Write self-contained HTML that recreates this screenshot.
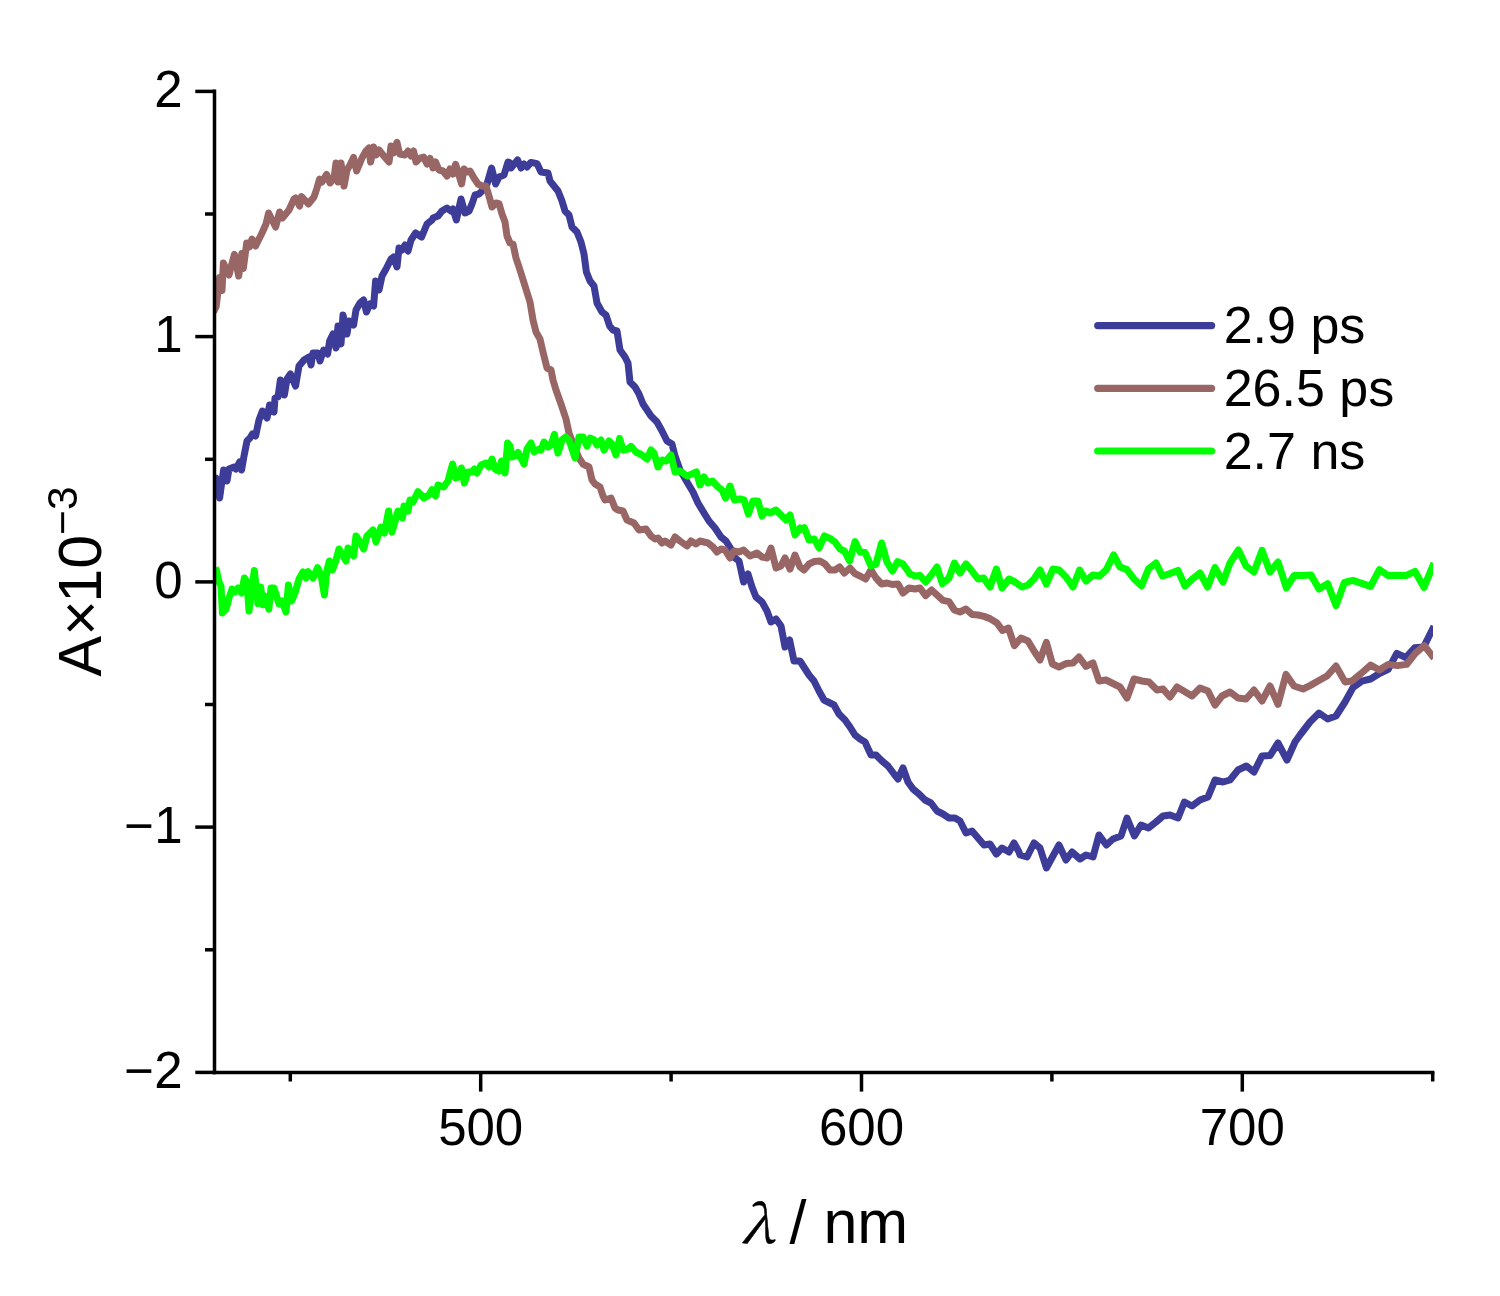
<!DOCTYPE html>
<html lang="en"><head><meta charset="utf-8"><title>Transient absorption spectra</title>
<style>html,body{margin:0;padding:0;background:#fff}svg{display:block}</style></head>
<body>
<svg width="1500" height="1296" viewBox="0 0 1500 1296">
<rect width="1500" height="1296" fill="#fff"/>
<defs><clipPath id="c"><rect x="214" y="80" width="1219" height="992.4"/></clipPath></defs>
<path d="M215.2,480.0 L216.0,478.0 L219.6,498.0 L221.0,488.0 L223.6,470.0 L227.0,481.0 L229.0,469.0 L234.0,467.0 L236.0,469.0 L239.6,462.0 L241.6,470.0 L244.0,456.0 L247.0,441.0 L250.0,438.0 L252.4,434.0 L255.6,436.0 L259.0,420.0 L262.4,411.0 L267.0,418.0 L269.6,405.0 L274.0,412.0 L275.0,398.0 L278.0,397.0 L280.4,380.0 L284.4,395.0 L287.0,379.0 L290.4,374.0 L295.6,386.0 L299.0,366.0 L304.0,360.0 L309.0,357.0 L311.0,365.0 L313.0,353.0 L318.0,353.0 L320.0,361.0 L323.6,350.0 L327.6,354.0 L329.6,341.0 L333.0,334.0 L336.0,348.0 L338.0,326.0 L341.0,344.0 L343.0,315.0 L347.0,334.0 L349.0,321.0 L353.6,325.0 L356.0,310.0 L360.0,303.0 L363.6,300.0 L366.4,312.0 L370.0,304.0 L373.6,306.0 L375.6,281.0 L379.0,290.0 L382.0,276.0 L386.0,269.0 L391.0,259.0 L393.6,257.0 L397.0,267.0 L399.0,248.0 L402.0,250.0 L405.0,245.0 L408.0,251.0 L411.0,240.0 L415.6,233.0 L421.6,237.0 L427.0,224.0 L432.0,220.0 L433.0,218.0 L438.0,216.0 L442.0,211.0 L447.0,208.0 L451.0,211.0 L453.0,209.0 L456.4,220.0 L461.0,199.0 L465.0,213.0 L469.0,211.0 L472.0,204.0 L475.0,195.0 L479.0,194.0 L483.0,190.0 L487.0,184.0 L491.6,168.0 L495.6,184.0 L499.0,177.0 L504.0,175.0 L508.0,162.0 L510.0,163.0 L511.0,168.0 L517.6,160.0 L521.0,168.0 L524.0,164.0 L527.0,167.0 L531.0,162.4 L537.0,163.6 L541.0,172.0 L548.0,173.0 L550.0,181.0 L558.0,191.0 L562.0,201.0 L565.0,211.0 L569.0,215.0 L572.0,227.0 L577.0,232.0 L581.0,242.0 L584.0,254.0 L586.4,272.0 L590.0,281.0 L594.0,286.0 L597.0,303.0 L602.0,312.0 L606.0,315.0 L609.6,326.0 L613.0,330.0 L617.0,331.0 L620.0,350.0 L625.0,357.0 L628.0,363.0 L630.0,382.0 L635.0,387.0 L639.0,394.0 L643.0,404.0 L651.0,416.0 L657.0,422.0 L662.0,431.0 L667.0,441.0 L672.0,444.0 L675.0,456.0 L680.0,470.0 L687.0,482.0 L693.0,492.0 L698.0,503.0 L704.0,513.0 L709.0,521.0 L715.0,528.0 L721.0,537.0 L726.0,541.0 L731.0,549.0 L735.0,558.0 L739.0,561.0 L741.0,570.0 L743.6,582.0 L748.0,574.0 L752.0,587.0 L756.0,597.0 L762.0,602.0 L767.0,611.0 L771.0,622.0 L776.0,619.0 L781.0,626.0 L785.0,647.0 L789.6,640.0 L794.0,661.0 L800.0,661.0 L809.0,675.0 L814.0,681.0 L819.0,691.0 L824.0,700.0 L834.0,705.0 L839.0,714.0 L845.0,720.0 L850.0,727.0 L855.0,735.0 L860.0,739.0 L865.0,742.0 L871.0,755.0 L876.0,755.0 L882.0,761.0 L888.0,766.0 L894.0,774.0 L898.0,779.0 L903.0,768.0 L908.0,782.0 L913.0,789.0 L919.0,794.0 L925.0,800.0 L931.0,803.0 L937.0,811.0 L943.0,814.0 L949.0,818.0 L955.0,818.0 L960.0,821.0 L966.0,833.0 L972.0,831.0 L978.0,838.0 L984.0,845.0 L990.0,844.0 L996.4,854.0 L1002.0,848.0 L1009.0,852.0 L1014.0,843.0 L1019.0,852.0 L1020.0,855.0 L1027.0,857.0 L1034.0,843.0 L1040.0,848.0 L1046.4,868.0 L1059.0,845.0 L1066.0,860.0 L1072.0,852.0 L1080.0,859.0 L1086.0,855.0 L1093.0,857.0 L1099.0,835.0 L1106.4,845.0 L1113.0,839.0 L1121.0,836.0 L1127.0,818.0 L1134.4,836.0 L1141.0,825.0 L1148.4,828.0 L1156.0,822.0 L1163.0,816.0 L1170.0,815.0 L1178.0,818.0 L1184.4,802.0 L1192.0,806.0 L1200.0,800.0 L1208.0,797.0 L1215.0,780.0 L1223.0,782.0 L1230.0,780.0 L1238.0,770.0 L1246.4,766.0 L1254.0,772.0 L1262.0,756.0 L1270.0,755.6 L1278.0,743.0 L1287.0,760.0 L1295.0,742.0 L1300.0,735.0 L1310.0,722.0 L1319.0,713.0 L1327.6,719.0 L1336.0,716.0 L1345.0,702.0 L1353.1,687.4 L1361.8,681.1 L1370.6,679.0 L1379.4,673.5 L1388.2,669.3 L1396.8,653.3 L1405.8,657.5 L1414.6,647.8 L1423.6,647.1 L1434.0,626.2" fill="none" stroke="#3d3d99" stroke-width="7" stroke-linejoin="round" stroke-linecap="butt" clip-path="url(#c)"/>
<path d="M213.5,312.0 L216.2,306.5 L219.6,277.5 L222.0,290.5 L223.4,263.0 L229.0,275.0 L234.4,254.4 L238.7,276.0 L241.8,253.5 L243.3,268.5 L246.7,243.0 L249.5,247.0 L252.0,239.0 L255.6,246.0 L262.0,233.0 L266.0,224.0 L268.6,213.0 L275.6,227.0 L279.6,212.0 L282.4,218.0 L289.0,210.0 L294.0,199.0 L295.6,198.0 L299.6,206.0 L301.6,196.6 L308.4,204.0 L314.0,197.0 L317.0,188.0 L319.6,179.0 L322.0,182.0 L326.6,174.4 L330.0,183.0 L334.0,178.0 L336.0,163.0 L338.0,182.0 L341.0,163.0 L344.0,186.0 L347.0,170.0 L350.0,165.0 L353.6,157.4 L356.6,171.0 L362.0,158.0 L366.0,151.0 L369.0,148.0 L370.6,162.0 L373.6,147.0 L376.0,155.0 L379.0,150.0 L383.0,155.0 L389.0,162.0 L391.0,146.0 L393.6,153.0 L397.0,142.4 L399.6,154.0 L405.0,155.0 L408.0,151.0 L411.0,156.0 L413.6,151.0 L416.0,162.0 L420.0,158.0 L423.6,157.0 L427.0,164.0 L430.0,158.4 L433.0,168.0 L435.6,162.0 L439.0,170.0 L443.0,171.0 L447.0,176.0 L450.0,169.0 L453.0,174.0 L455.6,164.4 L459.0,175.0 L461.6,184.0 L464.0,169.0 L467.0,172.0 L470.0,171.0 L474.0,178.0 L478.0,184.0 L482.0,186.0 L486.0,186.0 L489.0,196.0 L492.0,207.0 L496.0,203.0 L499.0,203.6 L502.0,214.0 L505.0,222.0 L507.0,236.0 L510.0,243.0 L513.0,244.0 L516.0,258.0 L520.0,270.0 L525.0,286.0 L530.0,302.0 L533.0,320.0 L536.0,332.0 L540.0,339.0 L543.0,352.0 L547.0,368.0 L551.0,370.0 L553.0,380.0 L556.0,390.0 L561.0,404.0 L566.0,419.0 L569.0,433.0 L574.0,446.0 L579.0,458.0 L583.0,464.0 L589.0,467.0 L592.0,480.0 L595.0,484.0 L600.0,487.0 L603.0,496.0 L605.0,500.0 L611.0,498.0 L615.0,508.0 L618.0,510.0 L623.0,511.0 L627.0,520.0 L634.0,523.0 L639.0,530.0 L646.0,529.0 L651.0,536.0 L655.0,539.0 L658.0,538.0 L662.0,543.0 L665.0,541.0 L671.0,545.0 L675.0,537.0 L680.0,541.0 L687.0,546.0 L691.0,541.0 L696.0,544.0 L700.0,541.0 L708.0,543.0 L713.0,547.0 L717.0,552.0 L721.0,549.0 L725.0,550.0 L730.0,558.0 L734.0,551.0 L739.0,552.0 L743.6,550.0 L750.0,556.0 L757.0,553.0 L762.0,557.0 L767.0,558.0 L771.0,548.0 L776.0,568.0 L781.0,566.0 L785.0,558.0 L790.0,569.0 L795.0,555.0 L800.0,567.0 L804.0,570.0 L809.0,564.0 L814.0,561.6 L820.0,561.0 L825.0,564.0 L830.0,570.0 L835.0,570.0 L839.6,567.0 L844.4,573.0 L850.0,568.0 L855.0,573.6 L860.0,576.0 L865.6,579.0 L871.0,570.0 L876.0,578.0 L881.6,584.0 L887.0,583.0 L892.0,584.4 L898.0,584.0 L903.0,593.0 L909.0,588.0 L915.0,589.0 L920.0,588.0 L925.6,595.6 L931.6,590.0 L937.0,595.0 L943.0,600.4 L949.0,601.6 L954.4,610.0 L960.0,612.0 L966.0,609.0 L972.0,614.4 L978.0,615.0 L984.0,616.4 L990.0,618.6 L997.0,623.0 L1002.4,630.4 L1008.4,628.0 L1014.4,645.6 L1021.0,638.0 L1028.0,641.0 L1034.0,651.0 L1040.0,660.0 L1046.4,642.4 L1052.4,664.0 L1059.0,667.0 L1066.0,663.6 L1073.0,663.0 L1079.0,657.0 L1086.0,666.4 L1093.0,663.0 L1099.0,681.0 L1106.0,680.0 L1120.0,687.0 L1127.0,698.0 L1134.0,679.0 L1142.0,681.0 L1149.0,682.0 L1157.0,690.0 L1163.0,689.0 L1170.0,697.0 L1177.0,687.0 L1192.0,696.0 L1200.0,688.0 L1208.0,691.0 L1215.0,705.0 L1222.0,696.0 L1230.0,692.0 L1238.0,698.0 L1246.0,699.0 L1254.0,690.0 L1262.0,701.0 L1270.0,686.0 L1278.0,704.4 L1286.0,674.4 L1294.0,686.0 L1300.0,688.0 L1303.0,689.0 L1310.0,685.6 L1318.0,681.0 L1327.0,676.0 L1336.0,666.0 L1345.0,681.9 L1351.7,681.1 L1361.1,673.5 L1370.6,665.1 L1379.4,670.0 L1388.2,664.4 L1397.2,665.6 L1406.7,664.4 L1415.3,653.3 L1424.3,645.7 L1434.0,658.2" fill="none" stroke="#996666" stroke-width="7" stroke-linejoin="round" stroke-linecap="butt" clip-path="url(#c)"/>
<path d="M215.2,568.0 L216.4,570.0 L219.0,582.0 L221.0,586.0 L222.4,613.0 L226.0,609.0 L229.0,598.0 L232.0,589.0 L235.0,592.0 L238.0,588.0 L241.6,593.0 L244.4,578.0 L247.0,582.0 L249.0,611.0 L254.3,570.5 L257.9,603.5 L260.7,587.0 L262.6,604.7 L264.5,595.9 L268.9,609.2 L269.0,607.0 L271.0,588.0 L274.0,588.0 L279.0,604.0 L282.0,601.0 L286.0,612.0 L288.4,585.0 L291.6,601.0 L295.0,593.0 L299.0,579.0 L303.0,572.0 L306.0,578.0 L308.0,571.6 L313.0,578.0 L317.6,567.6 L321.0,575.0 L324.4,595.0 L327.0,570.0 L329.4,561.0 L332.4,570.0 L336.0,560.0 L339.0,549.0 L346.0,561.0 L348.0,548.0 L353.6,556.0 L356.0,536.0 L360.0,542.0 L363.6,549.0 L367.0,536.0 L373.0,530.0 L376.0,542.0 L381.0,527.0 L384.4,533.0 L388.6,511.0 L392.0,532.0 L398.0,511.0 L402.4,518.0 L404.0,506.0 L408.0,511.0 L410.0,500.0 L413.0,502.0 L418.0,491.6 L424.0,498.0 L429.0,495.0 L432.0,489.6 L435.6,496.0 L438.0,485.0 L443.6,487.0 L448.0,481.0 L452.6,464.0 L455.6,478.0 L459.0,477.0 L461.4,468.0 L464.4,483.0 L468.0,472.0 L472.0,472.0 L474.4,469.0 L477.0,473.0 L481.0,465.0 L486.0,463.0 L489.0,467.0 L492.0,459.0 L495.0,469.0 L499.0,471.0 L501.6,461.0 L505.0,473.0 L507.6,443.0 L510.0,446.0 L512.0,457.0 L515.0,456.0 L518.0,452.4 L524.0,464.0 L527.0,449.0 L531.0,443.0 L534.0,452.0 L539.0,449.0 L541.0,450.0 L544.0,442.0 L548.0,447.0 L551.0,445.0 L554.4,434.4 L558.0,453.0 L562.0,440.0 L565.6,437.0 L569.0,440.0 L575.0,458.0 L579.0,437.0 L583.0,437.0 L587.0,446.0 L590.0,438.0 L594.0,440.0 L597.0,445.0 L601.0,440.0 L604.0,450.0 L609.0,441.0 L612.0,444.0 L616.0,455.0 L619.6,438.4 L623.0,450.0 L628.0,449.0 L631.0,446.4 L636.0,452.0 L642.0,455.0 L647.0,459.0 L651.0,450.0 L654.0,453.0 L658.0,467.0 L662.0,460.0 L666.0,461.0 L671.0,455.0 L675.0,472.0 L680.0,471.0 L687.0,476.0 L692.0,474.0 L696.4,472.0 L700.0,485.0 L704.0,477.0 L708.0,483.0 L712.4,481.0 L718.0,487.0 L722.0,490.0 L725.6,498.0 L730.0,486.0 L734.4,500.0 L740.0,499.0 L744.0,500.0 L748.4,514.0 L753.0,501.0 L758.0,501.0 L762.0,516.0 L766.0,511.0 L770.0,513.0 L776.0,510.0 L781.0,515.0 L786.0,520.0 L790.0,515.0 L795.0,535.0 L800.0,528.0 L800.0,530.0 L804.4,527.6 L809.0,540.0 L814.4,539.0 L819.0,548.0 L824.4,536.0 L830.0,538.4 L835.0,542.0 L840.0,549.0 L844.4,551.0 L849.6,561.0 L855.0,541.6 L860.0,552.0 L865.0,552.4 L871.0,566.0 L876.0,564.0 L881.6,543.0 L887.0,562.0 L892.4,571.0 L897.6,561.6 L903.0,564.0 L910.0,574.0 L915.0,576.0 L920.0,575.6 L925.6,582.0 L932.0,574.0 L937.0,567.0 L942.4,583.6 L949.0,578.0 L954.4,563.0 L960.0,573.0 L966.0,564.0 L972.0,571.0 L978.0,579.0 L983.6,578.0 L990.0,587.0 L996.4,569.0 L1002.0,588.0 L1009.0,579.0 L1015.0,582.0 L1022.0,587.0 L1028.0,585.0 L1034.0,579.0 L1040.0,570.0 L1046.4,584.0 L1053.0,569.0 L1059.0,570.0 L1066.0,577.0 L1073.0,587.0 L1079.6,570.0 L1086.0,581.0 L1086.0,581.0 L1093.0,575.0 L1099.6,576.0 L1106.4,569.6 L1113.6,555.0 L1120.0,567.0 L1127.0,569.6 L1134.0,579.0 L1141.6,586.0 L1148.4,569.0 L1156.0,563.0 L1162.4,576.0 L1170.0,573.6 L1178.0,570.4 L1185.0,586.0 L1192.4,579.0 L1200.0,573.0 L1207.6,587.0 L1215.0,567.6 L1223.0,582.0 L1230.0,563.0 L1238.4,550.0 L1246.0,566.0 L1254.0,572.0 L1262.0,550.4 L1270.0,572.0 L1278.0,562.0 L1286.4,588.0 L1294.0,575.6 L1302.0,575.6 L1311.0,575.0 L1319.0,589.0 L1327.6,583.6 L1336.0,605.6 L1344.4,582.5 L1352.8,580.4 L1370.6,586.4 L1379.4,569.7 L1388.2,575.6 L1397.2,575.3 L1405.8,575.6 L1415.0,571.4 L1423.9,587.4 L1434.0,563.1" fill="none" stroke="#00ff00" stroke-width="7" stroke-linejoin="round" stroke-linecap="butt" clip-path="url(#c)"/>
<g stroke="#000" stroke-width="3.5" fill="none">
<path d="M214.5,89.6 V1074.2"/>
<path d="M212.8,1072.4 H1434.4"/>
<path d="M195.3,91.4 H214.5"/>
<path d="M195.3,336.6 H214.5"/>
<path d="M195.3,581.9 H214.5"/>
<path d="M195.3,827.1 H214.5"/>
<path d="M195.3,1072.4 H214.5"/>
<path d="M205,214.0 H214.5"/>
<path d="M205,459.3 H214.5"/>
<path d="M205,704.5 H214.5"/>
<path d="M205,949.8 H214.5"/>
<path d="M480.7,1072.4 V1091.6"/>
<path d="M861.5,1072.4 V1091.6"/>
<path d="M1242.3,1072.4 V1091.6"/>
<path d="M290.3,1072.4 V1081.5"/>
<path d="M671.1,1072.4 V1081.5"/>
<path d="M1051.9,1072.4 V1081.5"/>
<path d="M1432.7,1072.4 V1081.5"/>
</g>
<g font-family="Liberation Sans, Arial, sans-serif" font-size="51" fill="#000">
<text x="182.5" y="107.0" text-anchor="end">2</text>
<text x="182.5" y="352.2" text-anchor="end">1</text>
<text x="182.5" y="597.5" text-anchor="end">0</text>
<text x="182.5" y="842.8" text-anchor="end">−1</text>
<text x="182.5" y="1088.0" text-anchor="end">−2</text>
<text x="480.7" y="1145.2" text-anchor="middle">500</text>
<text x="861.5" y="1145.2" text-anchor="middle">600</text>
<text x="1242.3" y="1145.2" text-anchor="middle">700</text>
<path d="M1097.7,325.6 H1211.6" stroke="#3d3d99" stroke-width="7.2" stroke-linecap="round" fill="none"/>
<text x="1223.7" y="343.4" font-size="52">2.9 ps</text>
<path d="M1097.7,388.3 H1211.6" stroke="#996666" stroke-width="7.2" stroke-linecap="round" fill="none"/>
<text x="1223.7" y="406.1" font-size="52">26.5 ps</text>
<path d="M1097.7,451.0 H1211.6" stroke="#00ff00" stroke-width="7.2" stroke-linecap="round" fill="none"/>
<text x="1223.7" y="468.8" font-size="52">2.7 ns</text>
</g>
<g font-family="Liberation Sans, Arial, sans-serif" font-size="61" fill="#000">
<text transform="translate(101.3,676.5) rotate(-90)">A×<tspan dx="-2.6">10</tspan><tspan font-size="42.5" dy="-24">−3</tspan></text>
<text transform="translate(741,1243.3) scale(1.1,1)" font-family="Noto Serif CJK SC, Liberation Serif, serif" font-style="italic" font-size="52" stroke="#000" stroke-width="0.5">λ</text>
<text x="789.5" y="1243">/ nm</text>
</g>
</svg>
</body></html>
